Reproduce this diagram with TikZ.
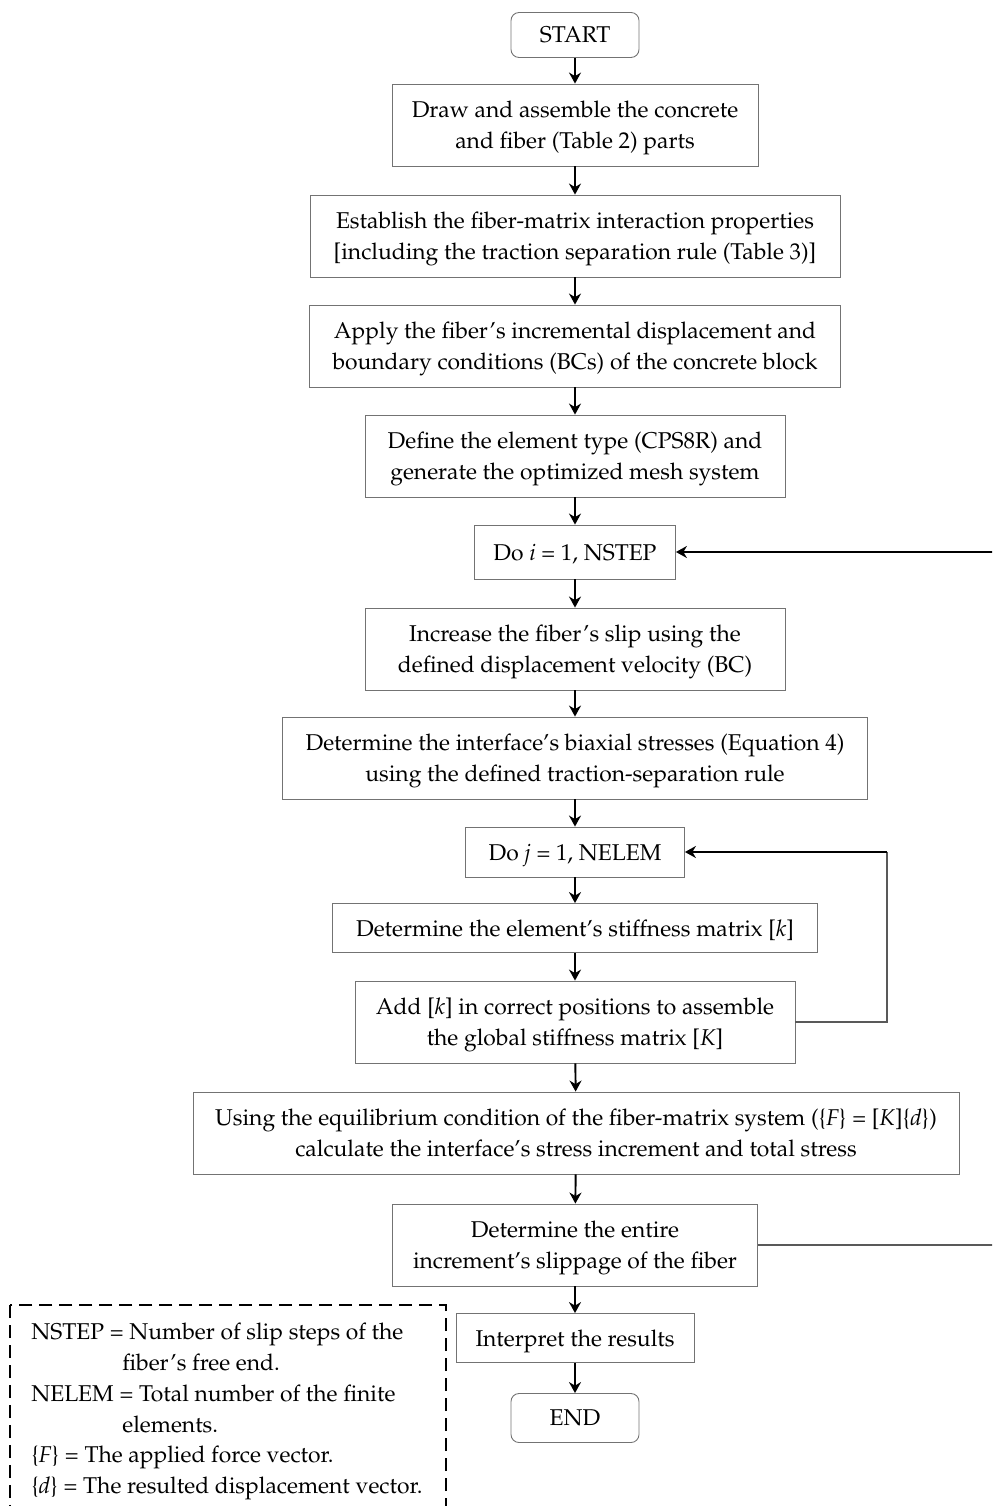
\documentclass[tikz,border=0pt]{standalone}
\usepackage[T1]{fontenc}
\usepackage{mathpazo}
\usepackage{tikz}
\usetikzlibrary{arrows.meta}
\definecolor{boxgray}{gray}{0.45}
\definecolor{linegray}{gray}{0.35}
\tikzset{
	proc/.style={draw=boxgray, line width=0.5pt, align=center, inner sep=0pt, text depth=0pt, minimum height=1.64cm, font=\fontsize{13}{17.6}\selectfont},
	term/.style={proc, rounded corners=0.16cm},
	flow/.style={-{Stealth[length=0.22cm,width=0.24cm]}, line width=1.1pt},
	loopline/.style={draw=linegray, line width=0.6pt},
	legendframe/.style={draw, dashed, dash pattern=on 0.26cm off 0.14cm, line width=1pt},
	legendtext/.style={align=left, inner sep=0pt, font=\fontsize{13}{17.5}\selectfont}
}
\begin{document}
\begin{tikzpicture}[x=0.02cm, y=-0.02cm]
	\useasboundingbox (0,0) rectangle (992,1506);
	\clip (0,0) rectangle (992,1506);

	\node[term, minimum width=2.56cm, minimum height=0.9cm] (start) at (575,35) {START};
	\node[proc, minimum width=7.32cm] (draw) at (575,125) {Draw and assemble the concrete\\and fiber (Table 2) parts};
	\node[proc, minimum width=10.6cm] (establish) at (575,236) {Establish the fiber-matrix interaction properties\\{}[including the traction separation rule (Table 3)]};
	\node[proc, minimum width=10.62cm] (apply) at (575,346) {Apply the fiber's incremental displacement and\\boundary conditions (BCs) of the concrete block};
	\node[proc, minimum width=8.4cm] (define) at (575,456) {Define the element type (CPS8R) and\\generate the optimized mesh system};
	\node[proc, minimum width=4.02cm, minimum height=1.08cm] (doi) at (575,552) {Do \textit{i} = 1, NSTEP};
	\node[proc, minimum width=8.4cm] (increase) at (575,649) {Increase the fiber's slip using the\\defined displacement velocity (BC)};
	\node[proc, minimum width=11.7cm] (stresses) at (575,758) {Determine the interface's biaxial stresses (Equation 4)\\using the defined traction-separation rule};
	\node[proc, minimum width=4.38cm, minimum height=1cm] (doj) at (575,852) {Do \textit{j} = 1, NELEM};
	\node[proc, minimum width=9.7cm, minimum height=0.98cm] (stiffness) at (575,928) {Determine the element's stiffness matrix [\textit{k}]};
	\node[proc, minimum width=8.8cm] (assemble) at (575,1022) {Add [\textit{k}] in correct positions to assemble\\the global stiffness matrix [\textit{K}]};
	\node[proc, minimum width=15.32cm] (equilib) at (576,1133) {Using the equilibrium condition of the fiber-matrix system (\{\textit{F}\} = [\textit{K}]\{\textit{d}\})\\calculate the interface's stress increment and total stress};
	\node[proc, minimum width=7.3cm] (slippage) at (575,1245) {Determine the entire\\increment's slippage of the fiber};
	\node[proc, minimum width=4.76cm, minimum height=0.98cm] (interpret) at (575,1338) {Interpret the results};
	\node[term, minimum width=2.56cm, minimum height=0.98cm] (stop) at (575,1418) {END};

	\draw[legendframe] (10,1305) rectangle (446,1530);
	\node[legendtext, anchor=north west] (legend) at (31,1323) {NSTEP = Number of slip steps of the\\
		\hspace*{1.82cm}fiber's free end.\\
		NELEM = Total number of the finite\\
		\hspace*{1.82cm}elements.\\
		\{\textit{F}\} = The applied force vector.\\
		\{\textit{d}\} = The resulted displacement vector.};

	\draw[flow] (start) -- (draw);
	\draw[flow] (draw) -- (establish);
	\draw[flow] (establish) -- (apply);
	\draw[flow] (apply) -- (define);
	\draw[flow] (define) -- (doi);
	\draw[flow] (doi) -- (increase);
	\draw[flow] (increase) -- (stresses);
	\draw[flow] (stresses) -- (doj);
	\draw[flow] (doj) -- (stiffness);
	\draw[flow] (stiffness) -- (assemble);
	\draw[flow] (assemble) -- (equilib);
	\draw[flow] (equilib) -- (slippage);
	\draw[flow] (slippage) -- (interpret);
	\draw[flow] (interpret) -- (stop);

	\coordinate (jturn) at (887,852);
	\draw[loopline] (assemble.east) -| (jturn);
	\draw[flow] (jturn) -- (doj);
	\coordinate (iturn) at (1010,552);
	\draw[loopline] (slippage.east) -| (iturn);
	\draw[flow] (iturn) -- (doi);
\end{tikzpicture}
\end{document}
